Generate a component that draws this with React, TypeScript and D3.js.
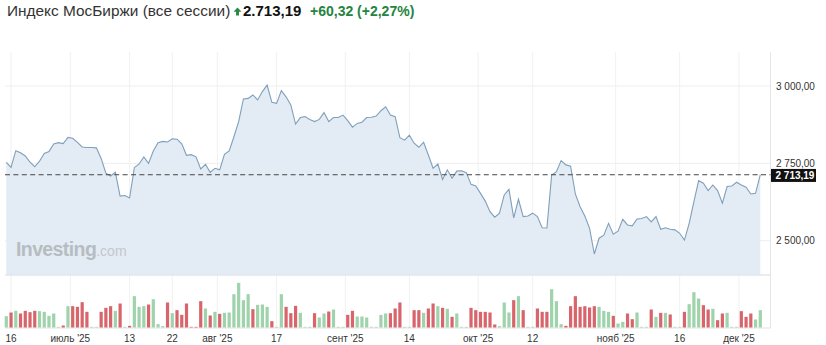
import React from "react";
import * as d3 from "d3";

// Daily closes, Moscow Exchange index (all sessions), mid-June .. early Dec 2025
const closes = [
  2753, 2737, 2791, 2784, 2774, 2754, 2739, 2757, 2782, 2788,
  2813, 2817, 2814, 2834, 2831, 2818, 2803, 2801, 2801, 2800,
  2766, 2718, 2709, 2721, 2644, 2646, 2638, 2736, 2748, 2771,
  2750, 2790, 2817, 2821, 2819, 2829, 2828, 2813, 2776, 2778,
  2771, 2732, 2747, 2721, 2734, 2729, 2779, 2790, 2836, 2885,
  2958, 2960, 2971, 2955, 2982, 3003, 2947, 2944, 2985, 2965,
  2939, 2877, 2898, 2901, 2892, 2885, 2892, 2914, 2885, 2898,
  2898, 2906, 2888, 2867, 2879, 2883, 2898, 2899, 2903, 2920,
  2933, 2906, 2901, 2833, 2825, 2841, 2815, 2802, 2818, 2777,
  2734, 2748, 2698, 2729, 2702, 2725, 2726, 2720, 2682, 2677,
  2653, 2628, 2594, 2576, 2589, 2648, 2666, 2574, 2634, 2578,
  2580, 2589, 2578, 2542, 2541, 2712, 2723, 2759, 2745, 2741,
  2651, 2610, 2580, 2540, 2457, 2508, 2518, 2556, 2521, 2531,
  2569, 2551, 2548, 2570, 2572, 2578, 2561, 2578, 2537, 2542,
  2537, 2535, 2524, 2502, 2556, 2626, 2694, 2686, 2662, 2680,
  2662, 2621, 2675, 2677, 2689, 2680, 2673, 2651, 2653, 2713.19,
];

// Volume (relative units)
const volumes = [
  34, 45, 50, 42, 50, 46, 50, 49, 47, 35,
  42, 2, 6, 64, 64, 62, 76, 47, 2, 2,
  47, 59, 64, 50, 72, 2, 5, 94, 62, 64,
  69, 85, 10, 4, 75, 43, 52, 38, 72, 2,
  2, 79, 57, 36, 47, 41, 44, 45, 100, 134,
  82, 100, 55, 68, 69, 62, 19, 2, 100, 62,
  43, 65, 44, 2, 2, 43, 30, 42, 48, 54,
  2, 2, 38, 50, 33, 33, 30, 2, 2, 38,
  42, 43, 57, 75, 2, 2, 52, 52, 44, 57,
  72, 64, 59, 56, 32, 42, 2, 2, 59, 52,
  47, 47, 45, 9, 4, 75, 45, 82, 94, 52,
  2, 2, 57, 47, 47, 115, 79, 10, 5, 64,
  94, 62, 64, 60, 64, 62, 50, 47, 35, 12,
  17, 42, 25, 45, 2, 2, 54, 32, 44, 44,
  39, 2, 2, 47, 70, 106, 87, 67, 54, 56,
  22, 42, 44, 2, 2, 49, 32, 42, 24, 52,
];

// 1 = up session (green), 0 = down session (red)
const upDays = [
  1, 0, 1, 0, 0, 0, 0, 1, 1, 1,
  1, 1, 0, 1, 0, 0, 0, 0, 1, 1,
  0, 0, 0, 1, 0, 1, 0, 1, 1, 1,
  0, 1, 1, 1, 0, 1, 0, 0, 0, 0,
  0, 0, 1, 0, 1, 0, 1, 1, 1, 1,
  1, 1, 0, 1, 1, 1, 0, 1, 1, 0,
  0, 0, 1, 1, 1, 0, 1, 1, 0, 1,
  1, 1, 0, 0, 1, 1, 1, 1, 1, 1,
  1, 0, 0, 0, 1, 1, 0, 0, 1, 0,
  0, 1, 0, 1, 0, 1, 1, 1, 0, 0,
  0, 0, 0, 0, 1, 1, 1, 0, 1, 0,
  1, 1, 0, 0, 0, 1, 1, 1, 0, 0,
  0, 0, 0, 0, 0, 1, 1, 1, 0, 1,
  1, 0, 0, 1, 1, 1, 0, 1, 0, 1,
  0, 1, 1, 0, 1, 1, 1, 0, 0, 1,
  0, 0, 1, 1, 1, 0, 0, 0, 1, 1,
];

const priceTicks = [2500, 2750, 3000];
const dateTickIndex = [1, 13.5, 26, 35, 44.5, 57, 71.5, 85, 99.5, 111, 128.5, 142, 154.5];
const dateTickLabels = ["16", "июль '25", "13", "22", "авг '25", "17", "сент '25", "14", "окт '25", "12", "нояб '25", "16", "дек '25"];

const title = "Индекс МосБиржи (все сессии)";
const prevClose = 2652.87;

const FONT = "'Liberation Sans', Arial, Helvetica, sans-serif";

export default function App() {
  const W = 826;
  const H = 345;
  const n = closes.length;
  const last = closes[n - 1];

  const x = d3.scaleLinear().domain([0, n - 1]).range([6.3, 760.3]);
  const y = d3.scaleLinear().domain([2500, 3000]).range([240.7, 86]);
  const yv = d3.scaleLinear().domain([0, 150]).range([327.5, 277.5]);
  const plotBottom = 274.5;
  const plotTop = 52;
  const rightEdge = 770.5;
  const barW = 3.2;

  const lineGen = d3.line<number>().x((_, i) => x(i)).y((d) => y(d));
  const areaGen = d3.area<number>().x((_, i) => x(i)).y0(plotBottom).y1((d) => y(d));

  const ruAxis = d3.formatLocale({ decimal: ",", thousands: " ", grouping: [3], currency: ["", ""] }).format(",.2f");
  const ruHead = d3.formatLocale({ decimal: ",", thousands: ".", grouping: [3], currency: ["", ""] }).format(",.2f");
  const change = last - prevClose;
  const pct = (change / prevClose) * 100;
  const fmt2 = d3.formatLocale({ decimal: ",", thousands: ".", grouping: [3], currency: ["", ""] }).format("+.2f");

  const yLast = y(last);

  return (
    <svg
      width={W}
      height={H}
      viewBox={`0 0 ${W} ${H}`}
      style={{ position: "absolute", left: 0, top: 0, background: "#fff", fontFamily: FONT }}
    >
      {/* header */}
      <text x={7} y={15.5} fontSize={15.4} fill="#333">{title}</text>
      <path d="M237.5,7.5 L241.5,11.8 L239,11.8 L239,15.5 L236,15.5 L236,11.8 L233.5,11.8 Z" fill="#2a8a46" />
      <text x={243} y={15.5} fontSize={15} fontWeight="bold" fill="#111">{ruHead(last)}</text>
      <text x={310} y={15.5} fontSize={14} fontWeight="bold" fill="#25843f">
        {`${fmt2(change)} (${fmt2(pct)}%)`}
      </text>

      {/* vertical grid lines */}
      {dateTickIndex.map((t, i) => (
        <line key={"vg" + i} x1={x(t)} x2={x(t)} y1={plotTop} y2={328} stroke="#f1f1f1" strokeWidth={1} />
      ))}
      {/* horizontal grid lines */}
      {priceTicks.map((p) => (
        <line key={"hg" + p} x1={5} x2={rightEdge} y1={y(p)} y2={y(p)} stroke="#eeeeee" strokeWidth={1} />
      ))}

      {/* area + line */}
      <path d={areaGen(closes) || ""} fill="#e3ecf5" />
      <path d={lineGen(closes) || ""} fill="none" stroke="#7f9fbb" strokeWidth={1.1} />

      {/* watermark */}
      <text x={16} y={256} fontSize={19.5} fontWeight="bold" fill="#b7bcc1" letterSpacing={-0.6}>
        Investing<tspan fontSize={14} fontWeight="normal" fill="#c3c7cb" letterSpacing={0}>.com</tspan>
      </text>

      {/* pane borders */}
      <line x1={5} x2={rightEdge} y1={plotBottom + 0.5} y2={plotBottom + 0.5} stroke="#d3dbe3" strokeWidth={1} />
      <line x1={5} x2={rightEdge} y1={328} y2={328} stroke="#e3e3e3" strokeWidth={1} />
      <line x1={rightEdge} x2={rightEdge} y1={plotTop} y2={328} stroke="#e6e6e6" strokeWidth={1} />

      {/* volume bars */}
      {volumes.map((v, i) => (
        <rect
          key={"v" + i}
          x={x(i) - barW / 2}
          y={yv(v)}
          width={barW}
          height={yv(0) - yv(v)}
          fill={upDays[i] ? "#9fd3ab" : "#d7656b"}
        />
      ))}

      {/* last price dashed line */}
      <line x1={5} x2={rightEdge} y1={yLast} y2={yLast} stroke="#444" strokeWidth={1} strokeDasharray="5,3.4" />

      {/* right axis labels */}
      {priceTicks.map((p) => (
        <text key={"yl" + p} x={776} y={y(p)} dy="0.35em" fontSize={10} fill="#333">{ruAxis(p)}</text>
      ))}
      <rect x={771} y={yLast - 5.8} width={45} height={13} fill="#111" />
      <text x={775.5} y={yLast + 0.7} dy="0.35em" fontSize={10} fontWeight="bold" fill="#fff">{ruAxis(last)}</text>

      {/* x axis labels */}
      {dateTickIndex.map((t, i) => (
        <text key={"xl" + i} x={x(t)} y={341.5} fontSize={10} textAnchor="middle" fill="#333">{dateTickLabels[i]}</text>
      ))}
    </svg>
  );
}
